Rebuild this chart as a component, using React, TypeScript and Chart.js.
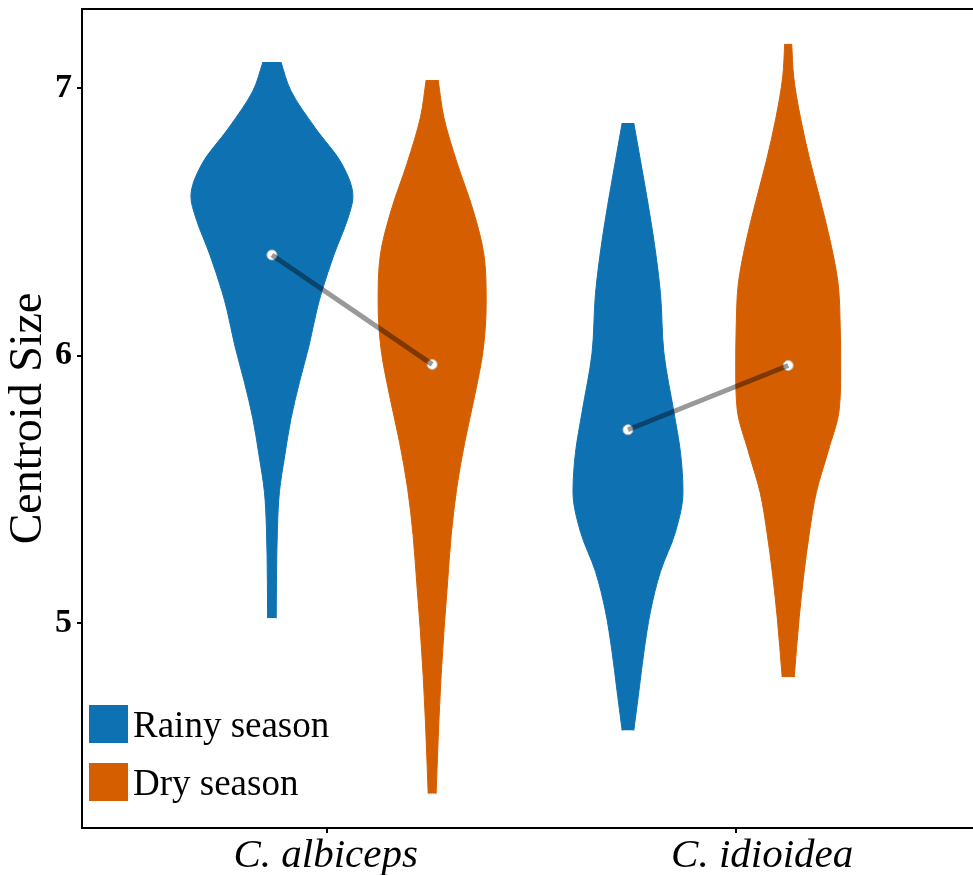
import React, { useEffect, useRef } from 'react';
import { Chart, registerables } from 'chart.js';
Chart.register(...registerables);

// ---- data ----
const categories = ['C. albiceps', 'C. idioidea'];
const seasons = ['Rainy season', 'Dry season'];
const seasonColors = ['#0E72B2', '#D55E00'];
const categoryCenters = [1, 2];
const dodge = 0.225;
const xTickValues = [0.93, 2.077];
const xLabelValues = [0.926, 2.152];
const yTickValues = [5, 6, 7];
const maxHalfWidth = 0.2275; // x-units for density = 1

const albicepsRainyLevels = [7.097, 6.989, 6.852, 6.716, 6.594, 6.513, 6.376, 6.240, 6.172, 6.036, 5.901, 5.764, 5.629, 5.492, 5.356, 5.152, 5.019];
const albicepsRainyDensity = [0.111, 0.235, 0.531, 0.864, 1.0, 0.938, 0.765, 0.617, 0.556, 0.457, 0.340, 0.235, 0.160, 0.093, 0.068, 0.056, 0.053];

const albicepsDryLevels = [7.030, 6.891, 6.719, 6.543, 6.371, 6.196, 6.022, 5.850, 5.674, 5.502, 5.328, 5.154, 4.981, 4.805, 4.633, 4.363];
const albicepsDryDensity = [0.074, 0.144, 0.309, 0.506, 0.642, 0.667, 0.630, 0.525, 0.401, 0.302, 0.235, 0.191, 0.148, 0.111, 0.083, 0.049];

const idioideaRainyLevels = [6.869, 6.676, 6.453, 6.232, 6.009, 5.787, 5.638, 5.491, 5.341, 5.193, 5.045, 4.896, 4.749, 4.599];
const idioideaRainyDensity = [0.072, 0.185, 0.309, 0.401, 0.444, 0.568, 0.648, 0.679, 0.586, 0.401, 0.278, 0.198, 0.136, 0.072];

const idioideaDryLevels = [7.165, 7.041, 6.885, 6.730, 6.575, 6.420, 6.266, 6.109, 5.955, 5.799, 5.644, 5.488, 5.333, 5.178, 5.022, 4.798];
const idioideaDryDensity = [0.043, 0.068, 0.154, 0.268, 0.401, 0.525, 0.617, 0.642, 0.648, 0.630, 0.494, 0.346, 0.259, 0.191, 0.136, 0.074];

const rainyMeans = [6.376, 5.723];
const dryMeans = [5.967, 5.963];

const FONT = '"Liberation Serif", "Times New Roman", serif';

function violinEdge(cx: number, levels: number[], dens: number[], side: number) {
  return levels.map((y, i) => ({ x: cx + side * dens[i] * maxHalfWidth, y }));
}

export default function App() {
  const ref = useRef<HTMLCanvasElement>(null);
  useEffect(() => {
    document.body.style.margin = '0';
    Chart.defaults.font.family = FONT;
    const violins = [
      { cx: categoryCenters[0] - dodge, levels: albicepsRainyLevels, dens: albicepsRainyDensity, color: seasonColors[0] },
      { cx: categoryCenters[0] + dodge, levels: albicepsDryLevels, dens: albicepsDryDensity, color: seasonColors[1] },
      { cx: categoryCenters[1] - dodge, levels: idioideaRainyLevels, dens: idioideaRainyDensity, color: seasonColors[0] },
      { cx: categoryCenters[1] + dodge, levels: idioideaDryLevels, dens: idioideaDryDensity, color: seasonColors[1] },
    ];
    const meanPts = categoryCenters.flatMap((c, i) => [
      { x: c - dodge, y: rainyMeans[i] },
      { x: c + dodge, y: dryMeans[i] },
    ]);
    const datasets: any[] = [];
    categoryCenters.forEach((c, i) => {
      datasets.push({
        data: [{ x: c - dodge, y: rainyMeans[i] }, { x: c + dodge, y: dryMeans[i] }],
        showLine: true,
        borderColor: 'rgba(0,0,0,0.4)',
        borderWidth: 5,
        pointRadius: 0,
        fill: false,
      });
    });
    datasets.push({
      data: meanPts,
      showLine: false,
      pointRadius: 5,
      pointBackgroundColor: '#ffffff',
      pointBorderColor: 'rgba(190,190,190,1)',
      pointBorderWidth: 1,
    });
    violins.forEach((v) => {
      datasets.push({
        data: violinEdge(v.cx, v.levels, v.dens, -1),
        showLine: true,
        fill: false,
        borderColor: v.color,
        borderWidth: 1,
        pointRadius: 0,
        cubicInterpolationMode: 'monotone',
      });
      datasets.push({
        data: violinEdge(v.cx, v.levels, v.dens, 1),
        showLine: true,
        fill: '-1',
        backgroundColor: v.color,
        borderColor: v.color,
        borderWidth: 1,
        pointRadius: 0,
        cubicInterpolationMode: 'monotone',
      });
    });

    const decor = {
      id: 'decor',
      afterDraw(chart: any) {
        const { ctx, chartArea, scales } = chart;
        ctx.save();
        ctx.strokeStyle = '#000';
        ctx.lineWidth = 2;
        ctx.beginPath();
        ctx.moveTo(chartArea.left - 1, chartArea.top);
        ctx.lineTo(chartArea.right, chartArea.top);
        ctx.stroke();
        ctx.fillStyle = '#000';
        ctx.font = `italic 41px ${FONT}`;
        ctx.textAlign = 'center';
        ctx.textBaseline = 'alphabetic';
        categories.forEach((c, i) => {
          ctx.fillText(c, scales.x.getPixelForValue(xLabelValues[i]), chartArea.bottom + 39);
        });
        // legend
        ctx.textAlign = 'left';
        ctx.font = `37px ${FONT}`;
        seasons.forEach((s, i) => {
          const top = chartArea.bottom - 123 + i * 58;
          ctx.fillStyle = seasonColors[i];
          ctx.fillRect(chartArea.left + 7, top, 39, 38);
          ctx.fillStyle = '#000';
          ctx.fillText(s, chartArea.left + 51, top + 32);
        });
        ctx.restore();
      },
    };

    const chart = new Chart(ref.current!, {
      type: 'scatter',
      data: { datasets },
      options: {
        indexAxis: 'y',
        animation: false,
        responsive: true,
        maintainAspectRatio: false,
        layout: { autoPadding: false, padding: { top: 9, right: 0, left: 0, bottom: 0 } },
        plugins: { legend: { display: false }, tooltip: { enabled: false } },
        scales: {
          x: {
            type: 'linear',
            min: 0.2416,
            max: 2.744,
            afterBuildTicks: (s: any) => { s.ticks = xTickValues.map((v) => ({ value: v })); },
            afterFit: (s: any) => {
              s.height = 47;
              s.paddingLeft = 0; s.paddingRight = 0; s.paddingTop = 0; s.paddingBottom = 0;
            },
            ticks: { display: false },
            grid: { drawOnChartArea: false, drawTicks: true, tickLength: 5, color: '#000', lineWidth: 2 },
            border: { display: true, color: '#000', width: 2 },
          },
          y: {
            type: 'linear',
            min: 4.235,
            max: 7.295,
            afterBuildTicks: (s: any) => { s.ticks = yTickValues.map((v) => ({ value: v })); },
            afterFit: (s: any) => {
              s.width = 82;
              s.paddingLeft = 0; s.paddingRight = 0; s.paddingTop = 0; s.paddingBottom = 0;
            },
            ticks: {
              color: '#000',
              font: { size: 34, weight: 'bold', family: FONT },
              padding: 5,
              callback: (v: any) => String(v),
            },
            grid: { drawOnChartArea: false, drawTicks: true, tickLength: 5, color: '#000', lineWidth: 2 },
            border: { display: true, color: '#000', width: 2 },
            title: {
              display: true,
              text: 'Centroid Size',
              color: '#000',
              font: { size: 46, family: FONT },
              padding: { top: 1, bottom: 0 },
            },
          },
        },
      },
      plugins: [decor],
    });
    return () => chart.destroy();
  }, []);
  return (
    <div style={{ width: 973, height: 875, position: 'relative' }}>
      <canvas ref={ref} />
    </div>
  );
}
